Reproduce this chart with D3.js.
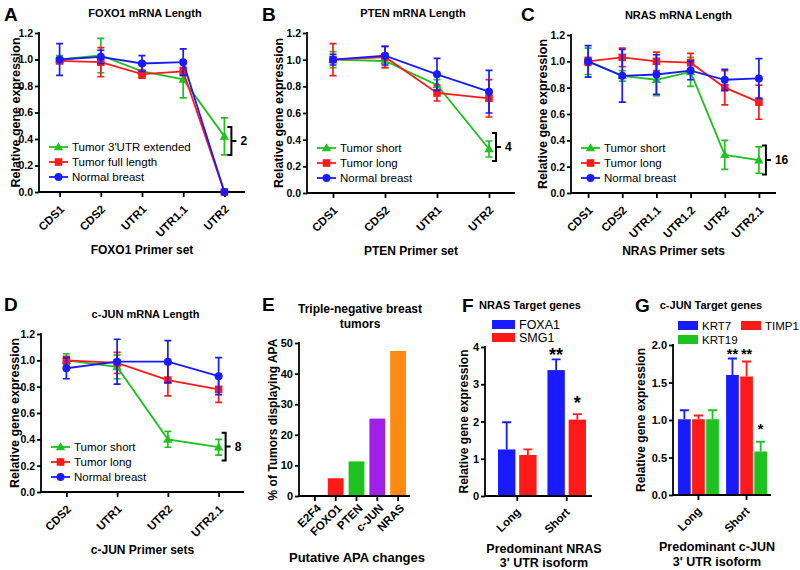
<!DOCTYPE html>
<html>
<head>
<meta charset="utf-8">
<script src="https://cdn.jsdelivr.net/npm/d3@7"></script>
<style>
  body { margin: 0; background: #fff; }
  svg text { font-family: "Liberation Sans", Arial, sans-serif; }
</style>
</head>
<body>
<div id="chart"></div>
<script>
// ---- data ----
const foxoSets = ["CDS1", "CDS2", "UTR1", "UTR1.1", "UTR2"];
const foxoExt = [1.00, 1.03, 0.91, 0.85, 0.42];
const foxoExtErr = [0.03, 0.13, 0.05, 0.14, 0.14];
const foxoFull = [0.99, 0.98, 0.89, 0.91, 0.00];
const foxoFullErr = [0.02, 0.11, 0.03, 0.03, 0.00];
const foxoNormal = [1.00, 1.02, 0.97, 0.98, 0.00];
const foxoNormalErr = [0.12, 0.05, 0.06, 0.10, 0.00];

const ptenSets = ["CDS1", "CDS2", "UTR1", "UTR2"];
const ptenShort = [1.00, 0.99, 0.81, 0.33];
const ptenShortErr = [0.06, 0.05, 0.04, 0.06];
const ptenLong = [1.00, 1.02, 0.75, 0.71];
const ptenLongErr = [0.12, 0.08, 0.06, 0.14];
const ptenNormal = [1.00, 1.03, 0.89, 0.76];
const ptenNormalErr = [0.04, 0.07, 0.12, 0.16];

const nrasSets = ["CDS1", "CDS2", "UTR1.1", "UTR1.2", "UTR2", "UTR2.1"];
const nrasShort = [1.00, 0.89, 0.86, 0.92, 0.29, 0.25];
const nrasShortErr = [0.10, 0.04, 0.12, 0.11, 0.11, 0.10];
const nrasLong = [1.00, 1.03, 1.00, 0.99, 0.80, 0.69];
const nrasLongErr = [0.03, 0.07, 0.07, 0.07, 0.13, 0.13];
const nrasNormal = [1.00, 0.89, 0.90, 0.93, 0.86, 0.87];
const nrasNormalErr = [0.12, 0.20, 0.15, 0.07, 0.08, 0.15];

const junSets = ["CDS2", "UTR1", "UTR2", "UTR2.1"];
const junShort = [1.00, 0.95, 0.40, 0.34];
const junShortErr = [0.05, 0.09, 0.06, 0.06];
const junLong = [1.00, 0.98, 0.85, 0.78];
const junLongErr = [0.03, 0.08, 0.12, 0.10];
const junNormal = [0.94, 0.99, 0.99, 0.88];
const junNormalErr = [0.08, 0.17, 0.16, 0.14];

// fold-change brackets: [low, high, label]
const foxoBracket = [0.28, 0.49, "2"];
const ptenBracket = [0.24, 0.45, "4"];
const nrasBracket = [0.14, 0.36, "16"];
const junBracket = [0.24, 0.45, "8"];

const apaGenes = ["E2F4", "FOXO1", "PTEN", "c-JUN", "NRAS"];
const apaPercent = [0, 5.8, 11.3, 25.3, 47.4];

const isoforms = ["Long", "Short"];
const foxa1 = [1.25, 3.38];
const foxa1Err = [0.73, 0.29];
const smg1 = [1.10, 2.05];
const smg1Err = [0.15, 0.15];
const nrasStars = [["", ""], ["**", "*"]];
const nrasStarLevel = [[0, 0], [3.86, 2.57]];

const krt7 = [1.01, 1.60];
const krt7Err = [0.12, 0.22];
const timp1 = [1.01, 1.58];
const timp1Err = [0.05, 0.20];
const krt19 = [1.01, 0.58];
const krt19Err = [0.12, 0.13];
const junStars = [["", "", ""], ["**", "**", "*"]];
const junStarLevel = [[0, 0, 0], [1.94, 1.94, 0.94]];

const GREEN = "#1ec21e", RED = "#ff1a1a", BLUE = "#1a1aff";

const svg = d3.select("#chart").append("svg")
  .attr("width", 800).attr("height", 570);

function panelLetter(x, y, s) {
  svg.append("text").attr("x", x).attr("y", y).text(s)
    .attr("font-size", 19).attr("font-weight", "bold");
}

// x is the baseline of the rotated text, glyphs extend to the left of it
function yAxisLabel(x, y, s, size) {
  svg.append("text")
    .attr("transform", "translate(" + x + "," + y + ") rotate(-90)")
    .attr("text-anchor", "middle")
    .attr("font-size", size).attr("font-weight", "bold").text(s);
}

function centred(x, y, s, size, weight) {
  svg.append("text").attr("x", x).attr("y", y)
    .attr("text-anchor", "middle").attr("font-size", size)
    .attr("font-weight", weight || "bold").text(s);
}

function styleAxis(g, size) {
  g.selectAll("path, line").attr("stroke", "#000").attr("stroke-width", 1.8);
  g.selectAll("text").attr("font-size", size || 11).attr("font-weight", "bold")
    .attr("fill", "#000").attr("font-family", "Liberation Sans, Arial, sans-serif");
}

function rotateTicks(g, dx, dy) {
  g.selectAll("text")
    .attr("text-anchor", "end")
    .attr("dy", "0.35em")
    .attr("transform", "translate(" + dx + "," + dy + ") rotate(-45)")
    .attr("x", 0).attr("y", 0);
}

function marker(g, shape, color, x, y) {
  if (shape == "circle") {
    g.append("circle").attr("cx", x).attr("cy", y).attr("r", 4).attr("fill", color);
  } else if (shape == "square") {
    g.append("rect").attr("x", x - 3.8).attr("y", y - 3.8)
      .attr("width", 7.6).attr("height", 7.6).attr("fill", color);
  } else {
    g.append("path").attr("d", d3.symbol().type(d3.symbolTriangle).size(38)())
      .attr("transform", "translate(" + x + "," + (y + 0.6) + ")").attr("fill", color);
  }
}

function linePanel(cfg) {
  const x = d3.scalePoint().domain(cfg.sets).range([cfg.left, cfg.right]).padding(0.5);
  const y = d3.scaleLinear().domain([0, 1.2]).range([cfg.bottom, cfg.top]);

  const gy = svg.append("g").attr("transform", "translate(" + cfg.left + ",0)")
    .call(d3.axisLeft(y).tickValues([0, 0.2, 0.4, 0.6, 0.8, 1.0, 1.2])
      .tickFormat(d3.format(".1f")).tickSizeOuter(0).tickSize(4).tickPadding(2));
  styleAxis(gy, 10.5);
  gy.select(".domain").attr("d", "M0," + cfg.bottom + "V" + (cfg.top - 1));

  const gx = svg.append("g").attr("transform", "translate(0," + cfg.bottom + ")")
    .call(d3.axisBottom(x).tickSizeOuter(0).tickSize(5));
  styleAxis(gx, 11.5);
  gx.select(".domain").attr("d", "M" + cfg.left + ",0H" + cfg.right);
  rotateTicks(gx, 2, 15);

  cfg.series.forEach(function(s) {
    const g = svg.append("g");
    const line = d3.line().x(function(d, i) { return x(cfg.sets[i]); }).y(function(d) { return y(d); });
    g.append("path").datum(s.vals).attr("fill", "none").attr("stroke", s.color)
      .attr("stroke-width", 1.8).attr("d", line);
    s.vals.forEach(function(v, i) {
      const cx = x(cfg.sets[i]);
      const e = s.errs[i];
      if (e > 0) {
        g.append("path").attr("fill", "none").attr("stroke", s.color).attr("stroke-width", 1.7)
          .attr("d", "M" + cx + "," + y(v - e) + "V" + y(v + e) +
            "M" + (cx - 3.5) + "," + y(v + e) + "h7" +
            "M" + (cx - 3.5) + "," + y(v - e) + "h7");
      }
      marker(g, s.shape, s.color, cx, y(v));
    });
  });

  // legend
  cfg.series.forEach(function(s, i) {
    const ly = cfg.bottom - 45 + i * 15;
    const lx = cfg.left + 10;
    svg.append("line").attr("x1", lx).attr("x2", lx + 19).attr("y1", ly).attr("y2", ly)
      .attr("stroke", s.color).attr("stroke-width", 1.8);
    marker(svg, s.shape, s.color, lx + 9.5, ly);
    svg.append("text").attr("x", lx + 23).attr("y", ly).attr("dy", "0.35em")
      .attr("font-size", 11.5).text(s.name);
  });

  // fold bracket
  const b = cfg.bracket;
  const bx = x(cfg.sets[cfg.sets.length - 1]) + 7;
  const by0 = y(b[0]), by1 = y(b[1]), bm = (by0 + by1) / 2;
  svg.append("path").attr("fill", "none").attr("stroke", "#000").attr("stroke-width", 2)
    .attr("d", "M" + (bx - 4) + "," + by1 + "H" + bx + "V" + by0 + "H" + (bx - 4) +
      "M" + bx + "," + bm + "h5");
  svg.append("text").attr("x", bx + 9).attr("y", bm).attr("dy", "0.35em")
    .attr("font-size", 12).attr("font-weight", "bold").text(b[2]);

  centred((cfg.left + cfg.right) / 2 + cfg.titleShift, cfg.top - 16, cfg.title, 11);
  centred((cfg.left + cfg.right) / 2, cfg.bottom + 62, cfg.xlabel, 12);
  yAxisLabel(cfg.ylabelX, (cfg.top + cfg.bottom) / 2, "Relative gene expression", 12.5);
}

linePanel({
  left: 39, right: 245, top: 33, bottom: 192, sets: foxoSets, titleShift: 3, ylabelX: 20,
  title: "FOXO1 mRNA Length", xlabel: "FOXO1 Primer set", bracket: foxoBracket,
  series: [
    { name: "Tumor 3'UTR extended", vals: foxoExt, errs: foxoExtErr, color: GREEN, shape: "triangle" },
    { name: "Tumor full length", vals: foxoFull, errs: foxoFullErr, color: RED, shape: "square" },
    { name: "Normal breast", vals: foxoNormal, errs: foxoNormalErr, color: BLUE, shape: "circle" }
  ]
});

linePanel({
  left: 307, right: 515, top: 33, bottom: 193, sets: ptenSets, titleShift: 2, ylabelX: 283,
  title: "PTEN mRNA  Length", xlabel: "PTEN Primer set", bracket: ptenBracket,
  series: [
    { name: "Tumor short", vals: ptenShort, errs: ptenShortErr, color: GREEN, shape: "triangle" },
    { name: "Tumor long", vals: ptenLong, errs: ptenLongErr, color: RED, shape: "square" },
    { name: "Normal breast", vals: ptenNormal, errs: ptenNormalErr, color: BLUE, shape: "circle" }
  ]
});

linePanel({
  left: 571, right: 776, top: 35, bottom: 193, sets: nrasSets, titleShift: 5, ylabelX: 547,
  title: "NRAS mRNA Length", xlabel: "NRAS Primer sets", bracket: nrasBracket,
  series: [
    { name: "Tumor short", vals: nrasShort, errs: nrasShortErr, color: GREEN, shape: "triangle" },
    { name: "Tumor long", vals: nrasLong, errs: nrasLongErr, color: RED, shape: "square" },
    { name: "Normal breast", vals: nrasNormal, errs: nrasNormalErr, color: BLUE, shape: "circle" }
  ]
});

linePanel({
  left: 41, right: 244, top: 334, bottom: 492, sets: junSets, titleShift: 3, ylabelX: 19,
  title: "c-JUN mRNA Length", xlabel: "c-JUN Primer sets", bracket: junBracket,
  series: [
    { name: "Tumor short", vals: junShort, errs: junShortErr, color: GREEN, shape: "triangle" },
    { name: "Tumor long", vals: junLong, errs: junLongErr, color: RED, shape: "square" },
    { name: "Normal breast", vals: junNormal, errs: junNormalErr, color: BLUE, shape: "circle" }
  ]
});

panelLetter(4, 21, "A");
panelLetter(262, 21, "B");
panelLetter(521, 21, "C");
panelLetter(4, 311, "D");

// ---- E: bar chart ----
(function() {
  const left = 299, bottom = 496, top = 343;
  const x = d3.scaleBand().domain(apaGenes).range([307, 406]).paddingInner(0.24).paddingOuter(0);
  const y = d3.scaleLinear().domain([0, 50]).range([bottom, top]);
  const colors = ["#888", RED, "#1ec21e", "#a020e8", "#ff8a12"];
  svg.append("g").selectAll("rect").data(apaPercent).join("rect")
    .attr("x", function(d, i) { return x(apaGenes[i]); })
    .attr("width", x.bandwidth())
    .attr("y", function(d) { return y(d); })
    .attr("height", function(d) { return bottom - y(d); })
    .attr("fill", function(d, i) { return colors[i]; });

  const gy = svg.append("g").attr("transform", "translate(" + left + ",0)")
    .call(d3.axisLeft(y).ticks(5).tickSizeOuter(0).tickSize(4).tickPadding(2));
  styleAxis(gy, 11);
  gy.select(".domain").attr("d", "M0," + bottom + "V" + (top - 1));
  const gx = svg.append("g").attr("transform", "translate(0," + bottom + ")")
    .call(d3.axisBottom(x).tickSizeOuter(0).tickSize(5));
  styleAxis(gx, 11.5);
  gx.select(".domain").attr("d", "M" + left + ",0H410");
  rotateTicks(gx, 4, 10);

  panelLetter(262, 311, "E");
  centred(360, 313, "Triple-negative breast", 12);
  centred(360, 328, "tumors", 12);
  yAxisLabel(277, (top + bottom) / 2, "% of Tumors displaying APA", 12);
  centred(357, 562, "Putative APA changes", 13);
})();

// ---- grouped bars with one-sided error bars ----
function groupedBars(cfg) {
  const x0 = d3.scaleBand().domain(isoforms).range([cfg.bandLeft, cfg.bandRight]).paddingInner(cfg.gap).paddingOuter(0);
  const x1 = d3.scaleBand().domain(d3.range(cfg.series.length)).range([0, x0.bandwidth()]).paddingInner(cfg.inner);
  const y = d3.scaleLinear().domain([0, cfg.max]).range([cfg.bottom, cfg.top]);

  cfg.series.forEach(function(s, j) {
    const g = svg.append("g");
    s.vals.forEach(function(v, i) {
      const bx = x0(isoforms[i]) + x1(j);
      const cx = bx + x1.bandwidth() / 2;
      g.append("path").attr("fill", "none").attr("stroke", s.color).attr("stroke-width", 1.8)
        .attr("d", "M" + cx + "," + y(v) + "V" + y(v + s.errs[i]) + "M" + (cx - 4.5) + "," + y(v + s.errs[i]) + "h9");
      g.append("rect").attr("x", bx).attr("width", x1.bandwidth())
        .attr("y", y(v)).attr("height", cfg.bottom - y(v)).attr("fill", s.color);
      const star = cfg.stars[i][j];
      if (star) {
        g.append("text").attr("x", cx).attr("y", y(cfg.starLevel[i][j]) + 9)
          .attr("text-anchor", "middle").attr("font-size", cfg.starSize).attr("font-weight", "bold").text(star);
      }
    });
  });

  const gy = svg.append("g").attr("transform", "translate(" + cfg.left + ",0)")
    .call(d3.axisLeft(y).tickValues(cfg.ticks).tickFormat(d3.format(cfg.fmt)).tickSizeOuter(0).tickSize(4).tickPadding(2));
  styleAxis(gy, 11);
  gy.select(".domain").attr("d", "M0," + cfg.bottom + "V" + (cfg.top - 1));
  const gx = svg.append("g").attr("transform", "translate(0," + cfg.bottom + ")")
    .call(d3.axisBottom(x0).tickSizeOuter(0).tickSize(5));
  styleAxis(gx, 11.5);
  gx.select(".domain").attr("d", "M" + cfg.left + ",0H" + cfg.right);
  rotateTicks(gx, 1, 14);

  cfg.legend.forEach(function(l, k) {
    const s = cfg.series[k];
    svg.append("rect").attr("x", l[0]).attr("y", l[1]).attr("width", cfg.boxW).attr("height", 9).attr("fill", s.color);
    svg.append("text").attr("x", l[0] + cfg.boxW + 4).attr("y", l[1] + 4.5).attr("dy", "0.35em")
      .attr("font-size", cfg.legendSize).text(s.name);
  });

  yAxisLabel(cfg.ylabelX, (cfg.top + cfg.bottom) / 2, "Relative gene expression", 12);
}

groupedBars({
  left: 485, right: 592, top: 347, bottom: 496, max: 4, ticks: [0, 1, 2, 3, 4], fmt: "d",
  bandLeft: 498, bandRight: 586, gap: 0.22, inner: 0.18, boxW: 23, ylabelX: 468,
  starSize: 18, legendSize: 12.5,
  series: [
    { name: "FOXA1", vals: foxa1, errs: foxa1Err, color: BLUE },
    { name: "SMG1", vals: smg1, errs: smg1Err, color: RED }
  ],
  stars: nrasStars, starLevel: nrasStarLevel,
  legend: [[492, 320], [492, 333]]
});
panelLetter(462, 312, "F");
centred(530, 309, "NRAS Target genes", 11);
centred(544, 553, "Predominant NRAS", 12.5);
centred(544, 567, "3' UTR isoform", 12.5);

groupedBars({
  left: 673, right: 771, top: 345, bottom: 495, max: 2, ticks: [0, 0.5, 1, 1.5, 2], fmt: ".1f",
  bandLeft: 678, bandRight: 767, gap: 0.15, inner: 0.1, boxW: 20, ylabelX: 645,
  starSize: 14.5, legendSize: 11.5,
  series: [
    { name: "KRT7", vals: krt7, errs: krt7Err, color: BLUE },
    { name: "TIMP1", vals: timp1, errs: timp1Err, color: RED },
    { name: "KRT19", vals: krt19, errs: krt19Err, color: "#1ec21e" }
  ],
  stars: junStars, starLevel: junStarLevel,
  legend: [[678, 321], [741, 321], [678, 335]]
});
panelLetter(635, 312, "G");
centred(711, 309, "c-JUN Target genes", 11);
centred(717, 551, "Predominant c-JUN", 12.5);
centred(717, 566, "3' UTR isoform", 12.5);
</script>
</body>
</html>
